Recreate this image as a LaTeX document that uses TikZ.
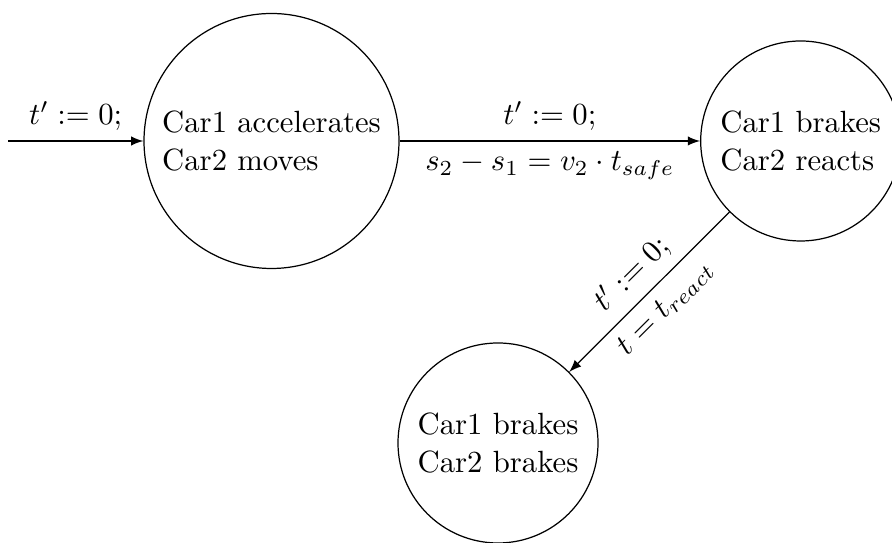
\documentclass[tikz,border=0pt]{standalone}
\usetikzlibrary{arrows}
\begin{document}
\begin{tikzpicture}[x=0.3257pt,y=-0.3257pt, >=latex,
  state/.style={draw, circle, align=left, inner sep=0pt, line width=0.4pt,
    font=\fontsize{10}{12.5}\selectfont},
  lbl/.style={font=\fontsize{10}{12}\selectfont}]
\clip (0,0) rectangle (892,543);
\node[state, minimum size=83.05pt] (a) at (271.5,141) {Car1 accelerates\\Car2 moves};
\node[state, minimum size=65.14pt] (b) at (800.7,141) {Car1 brakes\\Car2 reacts};
\node[state, minimum size=65.14pt] (c) at (498,443) {Car1 brakes\\Car2 brakes};
\coordinate (s) at (8,141);
\draw[->] (s) -- node[lbl, above] {$t' := 0;$} (a);
\draw[->] (a) -- node[lbl, above] {$t' := 0;$} node[lbl, below] {$s_2 - s_1 = v_2 \cdot t_{safe}$} (b);
\draw[->] (b) -- node[lbl, above, sloped] {$t' := 0;$} node[lbl, below, sloped] {$t = t_{react}$} (c);
\end{tikzpicture}
\end{document}
